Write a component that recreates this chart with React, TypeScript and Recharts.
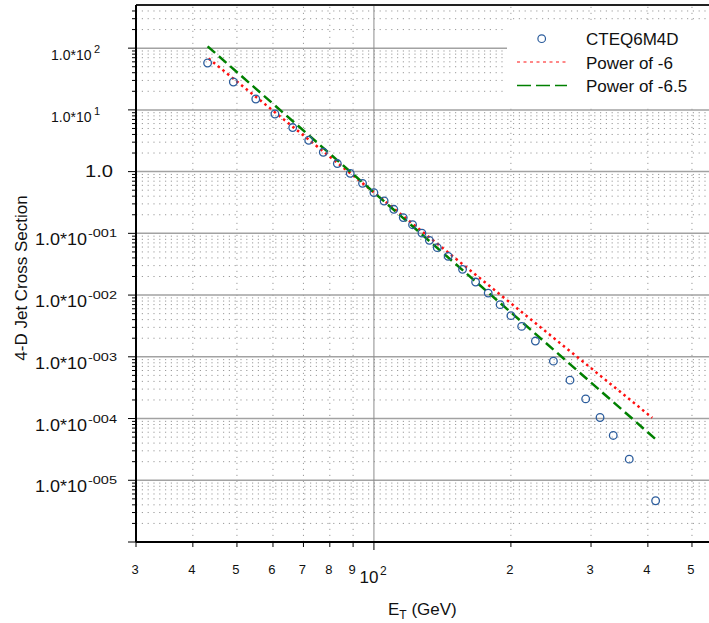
import { ComposedChart, Scatter, Line, XAxis, YAxis, ReferenceLine, Legend } from 'recharts'

const FONT = '"Liberation Sans", Arial, Helvetica, sans-serif'

// CTEQ6M4D points
const etValues = [43.1, 49.1, 55.0, 60.6, 66.3, 71.9, 77.4, 83.1, 88.7, 94.4, 100, 105.3, 110.6, 116.0, 121.6, 127.5, 132.4, 137.8, 145.6, 156.6, 167.3, 178.3, 189.4, 200.0, 211.2, 226.4, 248.0, 269.7, 292.0, 314.0, 335.7, 364.0, 416.0]
const cteqValues = [57.5, 28.3, 15.0, 8.58, 5.17, 3.22, 2.06, 1.35, 0.938, 0.646, 0.457, 0.334, 0.245, 0.18, 0.138, 0.101, 0.077, 0.0586, 0.0424, 0.0261, 0.01625, 0.01077, 0.00699, 0.00464, 0.00311, 0.0018, 8.51e-4, 4.19e-4, 2.08e-4, 1.04e-4, 5.32e-5, 2.2e-5, 4.66e-6]

// straight power-law lines (start, middle, end as seen)
const pow6Et = [43.3, 100, 409]
const pow6Values = [68, 0.46, 1.03e-4]
const pow65Et = [43.1, 100, 416]
const pow65Values = [107, 0.46, 4.64e-5]

const seriesNames = ['CTEQ6M4D', 'Power of -6', 'Power of -6.5']

const xTicks = [30, 40, 50, 60, 70, 80, 90, 100, 200, 300, 400, 500]
const xTickLabels = ['3', '4', '5', '6', '7', '8', '9', '10', '2', '3', '4', '5']
const xDottedGrid = [40, 50, 60, 70, 80, 90, 200, 300, 400, 500]

const yMajorTicks = [1e2, 1e1, 1, 1e-1, 1e-2, 1e-3, 1e-4, 1e-5, 1e-6]
const yTickSup = ['2', '1', '', '-001', '-002', '-003', '-004', '-005', '']
const yMinorSteps = [2, 3, 4, 5, 6, 7, 8, 9]

const yMinorTicks: number[] = []
yMajorTicks.forEach((d) => yMinorSteps.forEach((m) => {
  if (m * d < 500) yMinorTicks.push(m * d)
}))
const yAllTicks = [...yMajorTicks, ...yMinorTicks]

const cteqData = etValues.map((x, i) => ({ x, y: cteqValues[i] }))
const pow6Data = pow6Et.map((x, i) => ({ x, y: pow6Values[i] }))
const pow65Data = pow65Et.map((x, i) => ({ x, y: pow65Values[i] }))

const BLUE = '#2b5c9c'
const RED = '#ff1010'
const GREEN = '#008000'

function YTick(props: any) {
  const { x, y, payload } = props
  const i = yMajorTicks.indexOf(payload.value)
  if (i < 0) {
    return <line x1={x - 4} x2={x} y1={y} y2={y} stroke="#000" strokeWidth={1} />
  }
  const sup = yTickSup[i]
  const isBottom = payload.value === 1e-6
  let label = null
  if (!isBottom) {
    if (payload.value === 1) {
      label = (
        <text x={x - 51} y={y + 5.5} fontSize={16} textLength={28} lengthAdjust="spacingAndGlyphs" fill="#111" fontFamily={FONT}>1.0</text>
      )
    } else if (payload.value > 1) {
      label = (
        <g fontFamily={FONT} fill="#111">
          <text x={x - 85} y={y + 12} fontSize={14}>1.0*10</text>
          <text x={x - 42} y={y + 5} fontSize={11}>{sup}</text>
        </g>
      )
    } else {
      label = (
        <g fontFamily={FONT} fill="#111">
          <text x={x - 101} y={y + 12} fontSize={16} textLength={52} lengthAdjust="spacingAndGlyphs">1.0*10</text>
          <text x={x - 48} y={y + 4} fontSize={11} textLength={29} lengthAdjust="spacingAndGlyphs">{sup}</text>
        </g>
      )
    }
  }
  return (
    <g>
      <line x1={x - 8} x2={x} y1={y} y2={y} stroke="#000" strokeWidth={1} />
      {label}
    </g>
  )
}

function XTick(props: any) {
  const { x, y, payload } = props
  const i = xTicks.indexOf(payload.value)
  const isMain = payload.value === 100
  return (
    <g fontFamily={FONT} fill="#111">
      <line x1={x} x2={x} y1={y} y2={y + (isMain ? 8 : 5)} stroke="#000" strokeWidth={1} />
      {isMain ? (
        <>
          <text x={x + 4.5} y={y + 41} fontSize={17} textAnchor="end">{xTickLabels[i]}</text>
          <text x={x + 6} y={y + 33} fontSize={12}>2</text>
        </>
      ) : (
        <text x={x - 1} y={y + 32} fontSize={13} textAnchor="middle">{xTickLabels[i]}</text>
      )}
    </g>
  )
}

function LegendBox() {
  return (
    <svg width={202} height={84} style={{ display: 'block' }} fontFamily={FONT}>
      <circle cx={34.7} cy={18.7} r={3.8} fill="none" stroke={BLUE} strokeWidth={1.2} />
      <line x1={10} x2={60} y1={42} y2={42} stroke={RED} strokeWidth={1.2} strokeDasharray="3 3.5" />
      <line x1={10} x2={60} y1={65.5} y2={65.5} stroke={GREEN} strokeWidth={1.3} strokeDasharray="14 5" />
      <text x={79} y={25} fontSize={17} fill="#111">{seriesNames[0]}</text>
      <text x={79} y={48.5} fontSize={17} fill="#111">{seriesNames[1]}</text>
      <text x={79} y={72} fontSize={17} fill="#111">{seriesNames[2]}</text>
    </svg>
  )
}

const yLabel = () => (
  <text x={27} y={278} transform="rotate(-90, 27, 278)" textAnchor="middle" fontSize={17} fontFamily={FONT} fill="#111">
    4-D Jet Cross Section
  </text>
)

const xLabel = () => (
  <text x={388} y={615} fontSize={17} fontFamily={FONT} fill="#111">
    <tspan>E</tspan>
    <tspan dy={4} fontSize={12}>T</tspan>
    <tspan dy={-4}> (GeV)</tspan>
  </text>
)

export default function App() {
  return (
    <div style={{ position: 'absolute', left: 0, top: 0, width: 709, height: 623, overflow: 'hidden', background: '#fff' }}>
      <ComposedChart width={709} height={623} margin={{ top: 5, right: 0, bottom: 0, left: 0 }}>
        <XAxis
          dataKey="x"
          type="number"
          scale="log"
          domain={[30, 545]}
          allowDataOverflow
          ticks={xTicks}
          interval={0}
          height={81}
          tickSize={0}
          tickMargin={0}
          tickLine={false}
          axisLine={{ stroke: '#000', strokeWidth: 2 }}
          tick={<XTick />}
          label={xLabel}
        />
        <YAxis
          type="number"
          scale="log"
          domain={[1e-6, 500]}
          allowDataOverflow
          ticks={yAllTicks}
          interval={0}
          width={136}
          tickSize={0}
          tickMargin={0}
          tickLine={false}
          axisLine={{ stroke: '#000', strokeWidth: 2 }}
          tick={<YTick />}
          label={yLabel}
        />
        {yMinorTicks.map((v) => (
          <ReferenceLine key={'ym' + v} y={v} stroke="#9a9a9a" strokeWidth={1} strokeDasharray="1.2 4.6" />
        ))}
        {xDottedGrid.map((v) => (
          <ReferenceLine key={'xm' + v} x={v} stroke="#9a9a9a" strokeWidth={1} strokeDasharray="1.2 4.8" />
        ))}
        {yMajorTicks.filter((v) => v > 1e-6).map((v) => (
          <ReferenceLine key={'yM' + v} y={v} stroke="#a2a2a2" strokeWidth={1.5} />
        ))}
        <ReferenceLine x={100} stroke="#8c8c8c" strokeWidth={1} />
        <ReferenceLine y={500} stroke="#222" strokeWidth={2} />
        <Line
          data={pow6Data}
          dataKey="y"
          name={seriesNames[1]}
          type="linear"
          stroke={RED}
          strokeWidth={2.5}
          strokeDasharray="2.5 3.5"
          dot={false}
          activeDot={false}
          isAnimationActive={false}
        />
        <Line
          data={pow65Data}
          dataKey="y"
          name={seriesNames[2]}
          type="linear"
          stroke={GREEN}
          strokeWidth={2.5}
          strokeDasharray="10 5"
          dot={false}
          activeDot={false}
          isAnimationActive={false}
        />
        <Scatter
          data={cteqData}
          dataKey="y"
          name={seriesNames[0]}
          isAnimationActive={false}
          shape={(p: any) => <circle cx={p.cx} cy={p.cy} r={3.8} fill="none" stroke={BLUE} strokeWidth={1.3} />}
        />
        <Legend
          layout="horizontal"
          verticalAlign="middle"
          align="center"
          wrapperStyle={{ left: 507, top: 20, width: 202, height: 84, background: '#fff' }}
          content={() => <LegendBox />}
        />
      </ComposedChart>
    </div>
  )
}
